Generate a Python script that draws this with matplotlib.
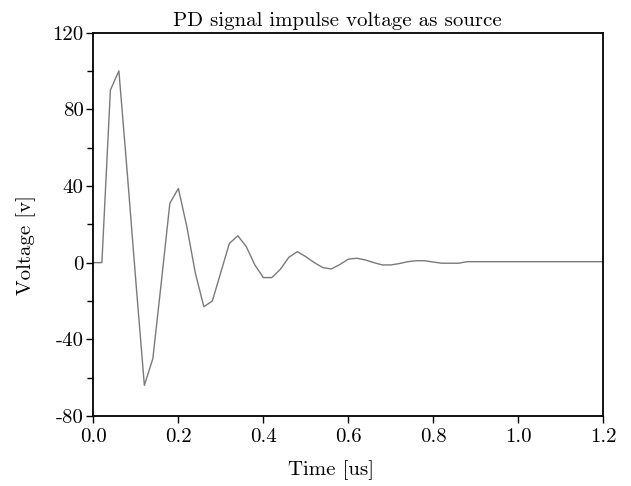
import numpy as np
import matplotlib
matplotlib.use("Agg")
import matplotlib.pyplot as plt
from matplotlib.ticker import MultipleLocator

plt.rcParams['font.family'] = 'serif'
plt.rcParams['font.serif'] = ['cmr10']
plt.rcParams['axes.unicode_minus'] = False
plt.rcParams['axes.formatter.use_mathtext'] = True

# time [us] and voltage [v] (roughly 0.02 us steps)
time_us = [0.00, 0.02, 0.04, 0.06, 0.08, 0.10, 0.12, 0.14, 0.16, 0.18,
           0.20, 0.22, 0.24, 0.26, 0.28, 0.30, 0.32, 0.34, 0.36, 0.38,
           0.40, 0.42, 0.44, 0.46, 0.48, 0.50, 0.52, 0.54, 0.56, 0.58,
           0.60, 0.62, 0.64, 0.66, 0.68, 0.70, 0.72, 0.74, 0.76, 0.78,
           0.80, 0.82, 0.84, 0.86, 0.88, 0.90, 1.00, 1.10, 1.20]
voltage = [0.0, 0.0, 90.0, 100.0, 46.0, -10.0, -64.0, -50.0, -10.0, 31.0,
           38.7, 18.7, -5.5, -23.0, -20.0, -5.0, 10.0, 14.0, 8.3, -1.2,
           -7.8, -7.8, -3.5, 2.8, 5.7, 3.1, 0.0, -2.6, -3.3, -1.0,
           1.8, 2.3, 1.4, 0.0, -1.2, -1.2, -0.5, 0.5, 1.0, 1.0,
           0.3, -0.3, -0.3, -0.3, 0.5, 0.5, 0.5, 0.5, 0.5]

fig = plt.figure(figsize=(6.31, 4.86), dpi=100)
ax = fig.add_axes([0.148, 0.144, 0.808, 0.789])

ax.plot(time_us, voltage, color='#7a7a7a', linewidth=1.0)

ax.set_xlim(0, 1.2)
ax.set_ylim(-80, 120)
ax.xaxis.set_major_locator(MultipleLocator(0.2))
ax.yaxis.set_major_locator(MultipleLocator(40))
ax.yaxis.set_minor_locator(MultipleLocator(20))
ax.set_xticklabels(['%.1f' % v for v in ax.get_xticks()])
ax.set_yticklabels(['%d' % v for v in ax.get_yticks()])

ax.tick_params(axis='both', which='major', direction='out', length=5, width=1,
               labelsize=15, top=False, right=False)
ax.tick_params(axis='y', which='minor', direction='out', length=4, width=1)
ax.tick_params(axis='x', which='major', pad=4)
ax.tick_params(axis='y', which='major', pad=2)

for s in ax.spines.values():
    s.set_linewidth(1.3)

ax.set_title('PD signal impulse voltage as source', fontsize=15, pad=5, x=0.478)
ax.set_xlabel('Time [us]', fontsize=15, labelpad=10, x=0.467)
ax.set_ylabel('Voltage [v]', fontsize=15, labelpad=12, y=0.446)

fig.savefig('out.png', dpi=100)
